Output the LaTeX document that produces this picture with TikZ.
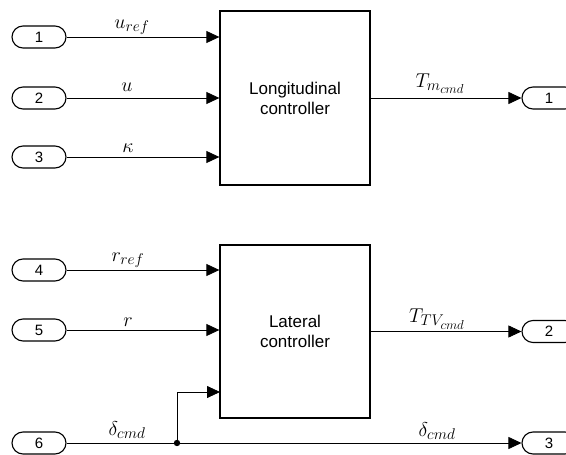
\RequirePackage{fix-cm}
\documentclass[tikz,border=0pt]{standalone}
\usepackage{fontspec}
\newfontfamily\arial{Liberation Sans}
\DeclareMathSizes{20}{20}{15.5}{13}
\usetikzlibrary{arrows.meta}
\begin{document}
\begin{tikzpicture}[x=1pt,y=-1pt,
 port/.style={draw, line width=1.1pt, rounded corners=11pt, minimum width=54pt, minimum height=22pt, inner sep=0pt, font=\arial\fontsize{15}{15}\selectfont},
 blk/.style={draw, line width=1.3pt, minimum width=150pt, align=center, inner sep=0pt, font=\arial\fontsize{17}{20}\selectfont},
 sig/.style={draw, line width=0.8pt, -{Triangle[length=13pt,width=12pt]}},
 lbl/.style={inner sep=0pt, anchor=base, font=\fontsize{20}{20}\selectfont}]
\useasboundingbox (0,0) rectangle (566,455);
% inports
\node[port] (i1) at (39,37) {1};
\node[port] (i2) at (39,98) {2};
\node[port] (i3) at (39,157) {3};
\node[port] (i4) at (39,270) {4};
\node[port] (i5) at (39,330) {5};
\node[port] (i6) at (39,443) {6};
% blocks
\node[blk, minimum height=174pt] (lon) at (295,98) {Longitudinal\\controller};
\node[blk, minimum height=173pt] (lat) at (295,331.5) {Lateral\\controller};
% outports
\node[port] (o1) at (549,98) {1};
\node[port] (o2) at (549,331.5) {2};
\node[port] (o3) at (549,443) {3};
% wires
\draw[sig] (i1.east) -- (i1.east -| lon.west);
\draw[sig] (i2.east) -- (i2.east -| lon.west);
\draw[sig] (i3.east) -- (i3.east -| lon.west);
\draw[sig] (lon.east) -- (o1.west);
\draw[sig] (i4.east) -- (i4.east -| lat.west);
\draw[sig] (i5.east) -- (i5.east -| lat.west);
\draw[sig] (lat.east) -- (o2.west);
\coordinate (j) at (177,443);
\coordinate (lat3) at (220,392);
\draw[sig] (i6.east) -- (o3.west);
\draw[sig] (j) |- (lat3);
\fill (j) circle (3.2pt);
% labels
\node[lbl] (l1) at (132,28) {$u_{ref}$};
\node[lbl] (l2) at (127,92) {$u$};
\node[lbl] (l3) at (128,152) {$\kappa$};
\node[lbl] (l4) at (440,87) {$T_{m_{cmd}}$};
\node[lbl] (l5) at (128,261) {$r_{ref}$};
\node[lbl] (l6) at (128,326) {$r$};
\node[lbl] (l7) at (437,322) {$T_{TV_{cmd}}$};
\node[lbl] (l8) at (127,435) {$\delta_{cmd}$};
\node[lbl] (l9) at (437,436) {$\delta_{cmd}$};
\end{tikzpicture}
\end{document}
